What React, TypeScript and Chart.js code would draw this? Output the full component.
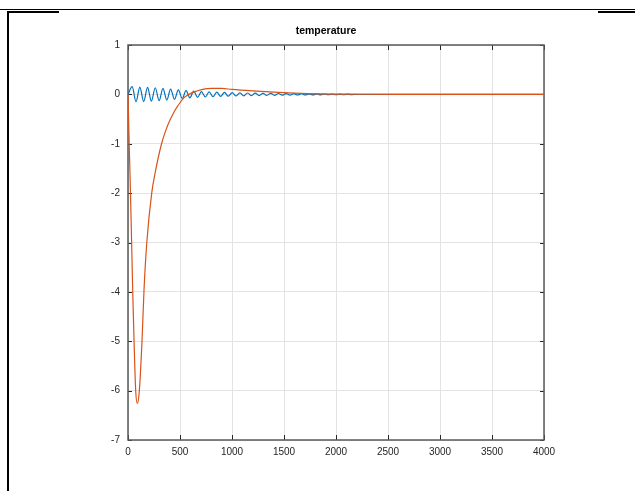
import React, { useEffect, useRef } from "react";
import { Chart, registerables } from "chart.js";

Chart.register(...registerables);

const chartTitle = "temperature";
const xTicks = [0, 500, 1000, 1500, 2000, 2500, 3000, 3500, 4000];
const yTicks = [-7, -6, -5, -4, -3, -2, -1, 0, 1];

// orange series
const orangeX = [0, 10, 19, 26, 35, 45, 58, 74, 90, 109, 135, 154, 180, 228, 260, 324, 372, 404, 452, 483, 532, 564, 612, 644, 700, 800, 900, 1000, 1200, 1400, 1600, 1850, 2200, 2600, 4000];
const orangeY = [0, -0.9, -1.6, -2.2, -3.02, -3.96, -4.98, -6.0, -6.26, -6.0, -4.98, -3.96, -3.02, -2.0, -1.6, -0.99, -0.68, -0.52, -0.32, -0.22, -0.08, -0.03, 0.03, 0.055, 0.09, 0.12, 0.12, 0.1, 0.07, 0.045, 0.025, 0.01, 0.003, 0, 0];

// blue series: peaks and troughs of the oscillation
const blueX = [0, 40, 77, 114, 151, 188, 225, 262, 299, 336, 373, 410, 447, 484, 521, 558, 595, 632, 669, 706, 743, 780, 817, 854, 891, 928, 965, 1002, 1039, 1076, 1113, 1150, 1187, 1224, 1261, 1298, 1335, 1372, 1409, 1446, 1483, 1520, 1557, 1594, 1631, 1668, 1705, 1742, 1779, 1816, 1853, 1890, 1927, 1964, 2001, 2038, 2075, 2112, 2149, 2200, 4000];
const blueY = [0, 0.155, -0.15, 0.148, -0.145, 0.142, -0.138, 0.134, -0.128, 0.122, -0.115, 0.108, -0.1, 0.092, -0.083, 0.075, -0.07, 0.065, -0.06, 0.056, -0.053, 0.05, -0.047, 0.044, -0.042, 0.04, -0.037, 0.035, -0.033, 0.031, -0.03, 0.028, -0.027, 0.025, -0.024, 0.022, -0.021, 0.02, -0.019, 0.018, -0.017, 0.016, -0.015, 0.014, -0.013, 0.013, -0.012, 0.011, -0.01, 0.01, -0.009, 0.008, -0.008, 0.007, -0.006, 0.006, -0.005, 0.005, -0.004, 0, 0];

const BLUE = "#0072BD";
const ORANGE = "#D95319";
const FONT = "'Liberation Sans', Arial, Helvetica, sans-serif";

const boxPlugin = {
  id: "matlabBox",
  beforeDatasetsDraw(chart: any) {
    const { ctx, chartArea: a, scales } = chart;
    const xs = scales.x;
    const ys = scales.y;
    ctx.save();
    ctx.strokeStyle = "#262626";
    ctx.lineWidth = 1;
    ctx.beginPath();
    xTicks.forEach((v) => {
      const px = Math.round(xs.getPixelForValue(v)) + 0.5;
      ctx.moveTo(px, a.bottom);
      ctx.lineTo(px, a.bottom - 5);
      ctx.moveTo(px, a.top);
      ctx.lineTo(px, a.top + 5);
    });
    yTicks.forEach((v) => {
      const py = Math.round(ys.getPixelForValue(v)) + 0.5;
      ctx.moveTo(a.left, py);
      ctx.lineTo(a.left + 4, py);
      ctx.moveTo(a.right, py);
      ctx.lineTo(a.right - 4, py);
    });
    ctx.stroke();
    ctx.strokeStyle = "#5a5a5a";
    ctx.lineWidth = 1.5;
    ctx.strokeRect(a.left, a.top, a.right - a.left, a.bottom - a.top);
    ctx.restore();
  },
};

export default function App() {
  const ref = useRef<HTMLCanvasElement | null>(null);

  useEffect(() => {
    if (!ref.current) return;
    const chart = new Chart(ref.current, {
      type: "line",
      data: {
        datasets: [
          {
            label: "orange",
            data: orangeX.map((x, i) => ({ x, y: orangeY[i] })),
            borderColor: ORANGE,
            borderWidth: 1.2,
            pointRadius: 0,
            fill: false,
            cubicInterpolationMode: "monotone",
          },
          {
            label: "blue",
            data: blueX.map((x, i) => ({ x, y: blueY[i] })),
            borderColor: BLUE,
            borderWidth: 1.2,
            pointRadius: 0,
            fill: false,
            cubicInterpolationMode: "monotone",
          },
        ],
      },
      options: {
        animation: false,
        responsive: false,
        maintainAspectRatio: false,
        layout: { padding: { left: 108, right: 91, top: 0, bottom: 31 } },
        plugins: {
          legend: { display: false },
          tooltip: { enabled: false },
          title: {
            display: true,
            text: chartTitle,
            color: "#000",
            font: { family: FONT, size: 10.5, weight: "bold" },
            padding: { top: 24.7, bottom: 7.7 },
          },
        },
        scales: {
          x: {
            type: "linear",
            min: 0,
            max: 4000,
            afterBuildTicks: (s: any) => {
              s.ticks = xTicks.map((v) => ({ value: v }));
            },
            afterFit: (s: any) => {
              s.height = 20;
            },
            ticks: {
              color: "#262626",
              font: { family: FONT, size: 10 },
              padding: 6,
              maxRotation: 0,
              autoSkip: false,
              callback: (v: any) => String(v),
            },
            grid: { color: "#e3e3e3", drawTicks: false },
            border: { display: false },
          },
          y: {
            type: "linear",
            min: -7,
            max: 1,
            afterBuildTicks: (s: any) => {
              s.ticks = yTicks.map((v) => ({ value: v }));
            },
            afterFit: (s: any) => {
              s.width = 20;
            },
            ticks: {
              color: "#262626",
              font: { family: FONT, size: 10 },
              padding: 8,
              autoSkip: false,
              callback: (v: any) => String(v),
            },
            grid: { color: "#e3e3e3", drawTicks: false },
            border: { display: false },
          },
        },
      },
      plugins: [boxPlugin],
    });
    return () => chart.destroy();
  }, []);

  return (
    <div style={{ position: "absolute", left: 0, top: 0, width: 635, height: 491, background: "#fff" }}>
      <div style={{ position: "absolute", left: 0, top: 9, width: 635, height: 1, background: "#000" }} />
      <div style={{ position: "absolute", left: 7, top: 11, width: 52, height: 2, background: "#000" }} />
      <div style={{ position: "absolute", left: 598, top: 11, width: 37, height: 2, background: "#000" }} />
      <div style={{ position: "absolute", left: 7, top: 11, width: 2, height: 480, background: "#000" }} />
      <canvas
        ref={ref}
        width={635}
        height={491}
        style={{ position: "absolute", left: 0, top: 0, width: 635, height: 491, display: "block" }}
      />
    </div>
  );
}
